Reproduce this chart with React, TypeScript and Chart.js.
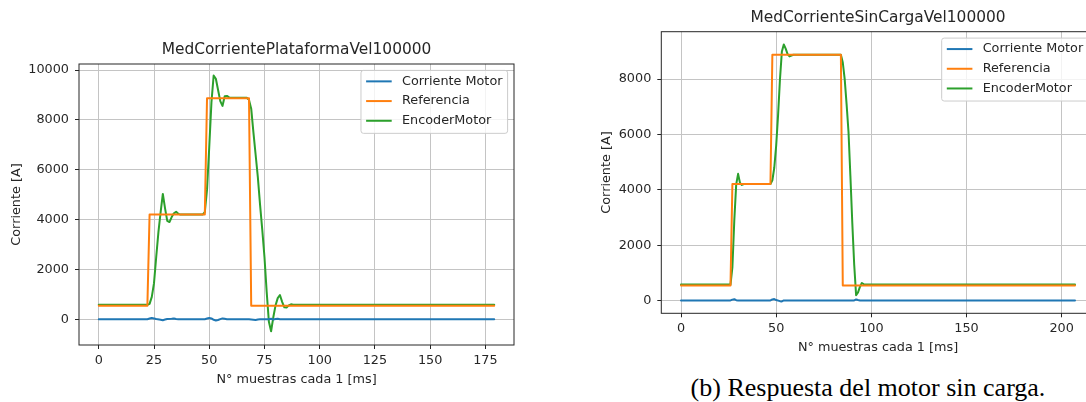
import React, { useEffect, useRef } from 'react';
import { Chart, registerables } from 'chart.js';

Chart.register(...registerables);

const FONT = 'DejaVu Sans';
const TEXT_COLOR = '#262626';
const BLUE = '#1f77b4';
const ORANGE = '#ff7f0e';
const GREEN = '#2ca02c';

const SERIES_LABELS = ['Corriente Motor', 'Referencia', 'EncoderMotor'];
const X_TITLE = 'N° muestras cada 1 [ms]';
const Y_TITLE = 'Corriente [A]';
const CAPTION = '(b) Respuesta del motor sin carga.';

// ---------- Left chart (plataforma) ----------
const A_TITLE = 'MedCorrientePlataformaVel100000';
const A_X_TICKS = [0, 25, 50, 75, 100, 125, 150, 175];
const A_Y_TICKS = [0, 2000, 4000, 6000, 8000, 10000];
const A_CURRENT_X = [0, 22, 23, 24, 25, 26, 28, 29, 30, 31, 33, 34, 35, 36, 48, 49, 50, 51, 52, 53, 54, 55, 56, 57, 58, 68, 70, 71, 72, 73, 77, 78, 79, 80, 81, 82, 179];
const A_CURRENT_Y = [5, 5, 30, 55, 35, 10, -15, -35, -10, 15, 25, 35, 15, 5, 5, 30, 55, 35, -20, -45, -30, 5, 35, 20, 5, 5, -15, -25, -5, 5, 5, 20, -10, 10, 25, 5, 5];
const A_REF_X = [0, 22, 23, 48, 49, 68, 69, 179];
const A_REF_Y = [545, 545, 4200, 4200, 8870, 8870, 545, 545];
const A_ENC_X = [0, 22, 23, 24, 25, 26, 27, 28, 29, 30, 31, 32, 33, 34, 35, 36, 37, 47, 48, 49, 50, 51, 52, 53, 54, 55, 56, 57, 58, 59, 67, 68, 69, 70, 71, 72, 73, 74, 75, 76, 77, 78, 79, 80, 81, 82, 83, 84, 85, 86, 87, 88, 179];
const A_ENC_Y = [580, 580, 620, 900, 1450, 2500, 3500, 4300, 5030, 4450, 3950, 3900, 4100, 4250, 4310, 4230, 4200, 4200, 4300, 5200, 6900, 8700, 9780, 9650, 9200, 8750, 8560, 8950, 8960, 8900, 8890, 8800, 8450, 7500, 6600, 5700, 4600, 3600, 2500, 1100, -100, -480, 80, 550, 850, 975, 700, 480, 470, 560, 600, 580, 580];

// ---------- Right chart (sin carga) ----------
const B_TITLE = 'MedCorrienteSinCargaVel100000';
const B_X_TICKS = [0, 50, 100, 150, 200];
const B_Y_TICKS = [0, 2000, 4000, 6000, 8000];
const B_CURRENT_X = [0, 26, 27, 28, 29, 30, 47, 48, 49, 50, 52, 53, 54, 91, 92, 93, 94, 207];
const B_CURRENT_Y = [10, 10, 40, 55, 20, 10, 10, 45, 60, 25, -15, -25, 10, 10, 45, 25, 10, 10];
const B_REF_X = [0, 26, 27, 47, 48, 84, 85, 207];
const B_REF_Y = [552, 552, 4210, 4210, 8880, 8880, 552, 552];
const B_ENC_X = [0, 26, 27, 28, 29, 30, 31, 32, 33, 47, 48, 49, 50, 51, 52, 53, 54, 55, 56, 57, 58, 59, 84, 85, 86, 87, 88, 89, 90, 91, 92, 93, 94, 95, 96, 97, 207];
const B_ENC_Y = [585, 585, 1200, 2900, 4200, 4580, 4250, 4180, 4210, 4210, 4350, 4800, 5600, 6700, 8000, 9000, 9250, 9100, 8900, 8820, 8850, 8880, 8880, 8600, 8000, 7100, 6100, 4500, 2800, 1300, 200, 300, 500, 640, 600, 585, 585];

const LINE_WIDTH = 2;

const pts = (xs: number[], ys: number[]) => xs.map((x, i) => ({ x, y: ys[i] }));

const mplDecor = {
  id: 'mplDecor',
  afterDatasetsDraw(chart: any) {
    const { ctx, chartArea: a } = chart;
    ctx.save();
    // axes frame (all four spines)
    ctx.strokeStyle = '#262626';
    ctx.lineWidth = 1;
    ctx.strokeRect(a.left, a.top, a.right - a.left, a.bottom - a.top);

    // matplotlib-like legend, upper right
    const F = 12.8;
    ctx.font = `${F}px "${FONT}"`;
    const ds = chart.data.datasets;
    const labels = ds.map((d: any) => d.label as string);
    const tw = Math.max(...labels.map((l: string) => ctx.measureText(l).width));
    const bp = 0.4 * F, hl = 2 * F, htp = 0.8 * F, ls = 0.5 * F, pad = 0.5 * F, rowH = 13.3;
    const w = 2 * bp + hl + htp + tw;
    const h = 2 * bp + labels.length * rowH + (labels.length - 1) * ls;
    const x0 = a.right - pad - w;
    const y0 = a.top + pad;
    const r = 2.5;
    ctx.beginPath();
    ctx.moveTo(x0 + r, y0);
    ctx.lineTo(x0 + w - r, y0);
    ctx.arcTo(x0 + w, y0, x0 + w, y0 + r, r);
    ctx.lineTo(x0 + w, y0 + h - r);
    ctx.arcTo(x0 + w, y0 + h, x0 + w - r, y0 + h, r);
    ctx.lineTo(x0 + r, y0 + h);
    ctx.arcTo(x0, y0 + h, x0, y0 + h - r, r);
    ctx.lineTo(x0, y0 + r);
    ctx.arcTo(x0, y0, x0 + r, y0, r);
    ctx.closePath();
    ctx.fillStyle = 'rgba(255,255,255,0.8)';
    ctx.fill();
    ctx.strokeStyle = '#cccccc';
    ctx.lineWidth = 1;
    ctx.stroke();
    labels.forEach((l: string, i: number) => {
      const cy = y0 + bp + rowH / 2 + i * (rowH + ls) - 0.8;
      ctx.strokeStyle = ds[i].borderColor;
      ctx.lineWidth = LINE_WIDTH;
      ctx.beginPath();
      ctx.moveTo(x0 + bp, cy);
      ctx.lineTo(x0 + bp + hl, cy);
      ctx.stroke();
      ctx.fillStyle = TEXT_COLOR;
      ctx.textBaseline = 'middle';
      ctx.textAlign = 'left';
      ctx.fillText(l, x0 + bp + hl + htp, cy);
    });
    ctx.restore();
  },
};

type Spec = {
  title: string;
  xTicks: number[];
  yTicks: number[];
  xMin: number; xMax: number; yMin: number; yMax: number;
  current: { x: number; y: number }[];
  ref: { x: number; y: number }[];
  enc: { x: number; y: number }[];
  yAxisWidth: number;
  xAxisHeight: number;
  padRight: number;
  titlePadTop: number;
  titlePadBottom: number;
  yTitlePad: number;
  xTitlePadBottom: number;
};

function makeConfig(s: Spec): any {
  const tickFont = { family: FONT, size: 12.8 };
  const grid = { color: '#c4c4c4', lineWidth: 1, tickLength: 4, tickColor: '#262626', drawTicks: true };
  return {
    type: 'line',
    data: {
      datasets: [
        { label: SERIES_LABELS[0], data: s.current, borderColor: BLUE, backgroundColor: BLUE },
        { label: SERIES_LABELS[1], data: s.ref, borderColor: ORANGE, backgroundColor: ORANGE },
        { label: SERIES_LABELS[2], data: s.enc, borderColor: GREEN, backgroundColor: GREEN },
      ].map((d) => ({ ...d, borderWidth: LINE_WIDTH, pointRadius: 0, tension: 0, fill: false, borderJoinStyle: 'round', borderCapStyle: 'round' })),
    },
    options: {
      responsive: false,
      animation: false,
      devicePixelRatio: 1,
      layout: { padding: { left: 0, top: 0, right: s.padRight, bottom: 0 } },
      plugins: {
        legend: { display: false },
        tooltip: { enabled: false },
        title: {
          display: true,
          text: s.title,
          fullSize: false,
          color: TEXT_COLOR,
          font: { family: FONT, size: 15.4, weight: 'normal' },
          padding: { top: s.titlePadTop, bottom: s.titlePadBottom },
        },
      },
      scales: {
        x: {
          type: 'linear',
          min: s.xMin,
          max: s.xMax,
          afterBuildTicks: (sc: any) => { sc.ticks = s.xTicks.map((v) => ({ value: v })); },
          afterFit: (sc: any) => { sc.height = s.xAxisHeight; },
          grid,
          border: { display: false },
          ticks: { color: TEXT_COLOR, font: tickFont, padding: 4, maxRotation: 0, autoSkip: false, callback: (v: any) => String(v) },
          title: { display: true, text: X_TITLE, color: TEXT_COLOR, font: tickFont, padding: { top: 0, bottom: s.xTitlePadBottom } },
        },
        y: {
          type: 'linear',
          min: s.yMin,
          max: s.yMax,
          afterBuildTicks: (sc: any) => { sc.ticks = s.yTicks.map((v) => ({ value: v })); },
          afterFit: (sc: any) => { sc.width = s.yAxisWidth; },
          grid,
          border: { display: false },
          ticks: { color: TEXT_COLOR, font: tickFont, padding: 6, autoSkip: false, callback: (v: any) => String(v) },
          title: { display: true, text: Y_TITLE, color: TEXT_COLOR, font: tickFont, padding: { top: s.yTitlePad, bottom: 0 } },
        },
      },
    },
    plugins: [mplDecor],
  };
}

function ChartCanvas({ spec, left, top, width, height }: { spec: Spec; left: number; top: number; width: number; height: number }) {
  const ref = useRef<HTMLCanvasElement>(null);
  useEffect(() => {
    if (!ref.current) return;
    const chart = new Chart(ref.current, makeConfig(spec));
    return () => chart.destroy();
  }, []);
  return (
    <canvas
      ref={ref}
      width={width}
      height={height}
      style={{ position: 'absolute', left, top, width, height, display: 'block' }}
    />
  );
}

const SPEC_A: Spec = {
  title: A_TITLE,
  xTicks: A_X_TICKS,
  yTicks: A_Y_TICKS,
  xMin: -8.95, xMax: 187.95, yMin: -1031, yMax: 10241,
  current: pts(A_CURRENT_X, A_CURRENT_Y),
  ref: pts(A_REF_X, A_REF_Y),
  enc: pts(A_ENC_X, A_ENC_Y),
  yAxisWidth: 79,
  xAxisHeight: 57,
  padRight: 26,
  titlePadTop: 40.76,
  titlePadBottom: 4.76,
  yTitlePad: 9.3,
  xTitlePadBottom: 14.3,
};

const SPEC_B: Spec = {
  title: B_TITLE,
  xTicks: B_X_TICKS,
  yTicks: B_Y_TICKS,
  xMin: -10.35, xMax: 217.35, yMin: -454, yMax: 9712,
  current: pts(B_CURRENT_X, B_CURRENT_Y),
  ref: pts(B_REF_X, B_REF_Y),
  enc: pts(B_ENC_X, B_ENC_Y),
  yAxisWidth: 101.3,
  xAxisHeight: 56.7,
  padRight: 25.3,
  titlePadTop: 9.06,
  titlePadBottom: 4.16,
  yTitlePad: 39.3,
  xTitlePadBottom: 14.6,
};

export default function App() {
  return (
    <div style={{ position: 'fixed', left: 0, top: 0, width: 1086, height: 402, overflow: 'hidden', background: '#fff' }}>
      <ChartCanvas spec={SPEC_A} left={0} top={0} width={540} height={402} />
      <ChartCanvas spec={SPEC_B} left={560} top={0} width={560} height={370} />
      <div
        style={{
          position: 'absolute',
          left: 600,
          width: 536,
          top: 373,
          textAlign: 'center',
          fontFamily: '"Liberation Serif", "Times New Roman", serif',
          fontSize: 26,
          lineHeight: '30px',
          color: '#000',
          whiteSpace: 'nowrap',
        }}
      >
        {CAPTION}
      </div>
    </div>
  );
}
